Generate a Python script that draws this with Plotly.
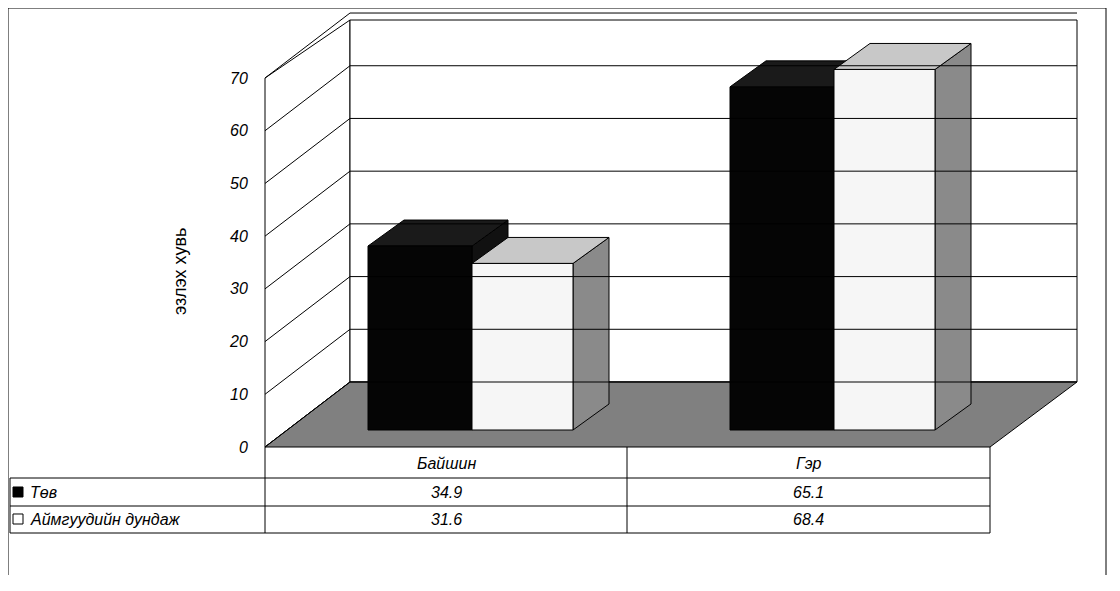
import plotly.graph_objects as go

categories = ["Байшин", "Гэр"]
series_names = ["Төв", "Аймгуудийн дундаж"]
tov = [34.9, 65.1]
aimag = [31.6, 68.4]
y_ticks = [0, 10, 20, 30, 40, 50, 60, 70]

PX = 5.271          # pixels per percent
Y0 = 447            # pixel row of value 0
OFF = 8             # page body margin
def P(py):
    return (Y0 - py) / PX

BACK = P(382)       # depth rise of back wall in value units
BASE = P(430)
BDX, BDY = 36, 26 / PX
bar_x = [368, 730]
bar_w = [104, 101]
styles = [("#050505", "#1a1a1a", "#111111"), ("#f6f6f6", "#c8c8c8", "#8a8a8a")]
FONT = dict(size=16, color="black", family="Liberation Sans")

fig = go.Figure()
def poly(xs, ys, fill, line="black", width=1):
    fig.add_trace(go.Scatter(x=xs + [xs[0]], y=ys + [ys[0]], mode="lines", fill="toself",
                             fillcolor=fill, line=dict(color=line, width=width),
                             hoverinfo="skip", showlegend=False))

def seg(x0, y0, x1, y1, w=1):
    fig.add_shape(type="line", x0=x0, y0=y0, x1=x1, y1=y1, line=dict(color="black", width=w))

# walls
top = P(20)
poly([265, 265, 350, 350], [0, 70, top, BACK], "white")
poly([350, 1077, 1077, 350], [BACK, BACK, top, top], "white")
for t in y_ticks:
    seg(265, t, 350, t + BACK)
    seg(350, t + BACK, 1077, t + BACK)
poly([265, 990, 1077, 350], [0, 0, BACK, BACK], "#808080")

# bars
for ci in range(len(categories)):
    for si, vals in enumerate([tov, aimag]):
        x0 = bar_x[ci] + sum(bar_w[:si])
        x1 = x0 + bar_w[si]
        h = BASE + vals[ci]
        front, topc, side = styles[si]
        poly([x1, x1 + BDX, x1 + BDX, x1], [BASE, BASE + BDY, h + BDY, h], side)
        poly([x0, x1, x1 + BDX, x0 + BDX], [h, h, h + BDY, h + BDY], topc)
        poly([x0, x1, x1, x0], [BASE, BASE, h, h], front)

ann = []
for t in y_ticks:
    ann.append(dict(x=250, y=t, text="<i>%d</i>" % t, xanchor="right", showarrow=False, font=FONT))
ann.append(dict(x=180, y=P(272), text="эзлэх хувь", textangle=-90, showarrow=False,
                font=dict(size=18, color="black", family="Liberation Sans")))

# data table
seg(265, 0, 265, P(533)); seg(627, 0, 627, P(533)); seg(990, 0, 990, P(533))
seg(10, P(478), 10, P(533))
seg(10, P(478), 990, P(478))
seg(10, P(506), 990, P(506)); seg(10, P(533), 990, P(533))
for ci, c in enumerate(categories):
    xm = (265 + 627) / 2 if ci == 0 else (627 + 990) / 2
    ann.append(dict(x=xm, y=P(463), text="<i>%s</i>" % c, showarrow=False, font=FONT))
    for ri, vals in enumerate([tov, aimag]):
        ann.append(dict(x=xm, y=P(492 + 27 * ri), text="<i>%.1f</i>" % vals[ci],
                        showarrow=False, font=FONT))
for ri, name in enumerate(series_names):
    yc = P(492 + 27 * ri)
    fill = "black" if ri == 0 else "white"
    fig.add_shape(type="rect", x0=13, x1=23, y0=yc - 0.95, y1=yc + 0.95,
                  fillcolor=fill, line=dict(color="black", width=1))
    ann.append(dict(x=28, y=yc, text="<i>%s</i>" % name, xanchor="left", showarrow=False, font=FONT))

# chart border
seg(8, P(8), 1106, P(8)); seg(8, P(8), 8, P(575)); seg(1106, P(8), 1106, P(575))

fig.update_layout(width=1120, height=591, margin=dict(l=0, r=0, t=0, b=0),
                  plot_bgcolor="white", paper_bgcolor="white", annotations=ann,
                  xaxis=dict(range=[OFF, 1120 + OFF], visible=False, fixedrange=True),
                  yaxis=dict(range=[P(591 + OFF), P(OFF)], visible=False, fixedrange=True))
fig.write_html("out.html")
